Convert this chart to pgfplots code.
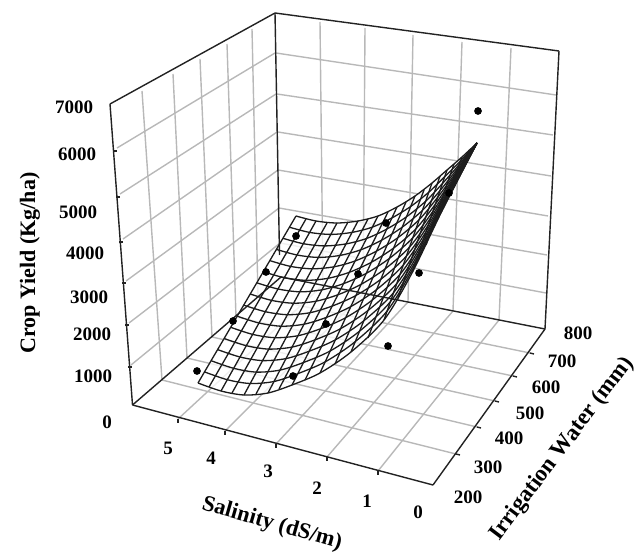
\documentclass[border=0pt]{standalone}
\usepackage{pgfplots}
\pgfplotsset{compat=1.18}
\usepackage{fontspec}
\setmainfont{Liberation Serif}
\definecolor{gridc}{HTML}{B8B8B8}
\definecolor{axisc}{HTML}{222222}
\definecolor{meshc}{HTML}{1C1C1C}
\newcommand\gl[4]{\addplot[gridc,line width=1.4pt,no marks] coordinates {(#1,#2) (#3,#4)};}
\newcommand\al[4]{\addplot[axisc,line width=1.4pt,no marks] coordinates {(#1,#2) (#3,#4)};}
\newcommand\ml[4]{\addplot[meshc,line width=1.3pt,no marks] coordinates {(#1,#2) (#3,#4)};}
\newcommand\rowline[1]{\addplot[meshc,line width=1.3pt,no marks,smooth,tension=0.5] coordinates {#1 (477,143)};}
\newcommand\tl[3]{\node[font=\fontsize{19}{19}\selectfont\bfseries] at (axis cs:#1,#2) {#3};}
\begin{document}
\begin{tikzpicture}
\path[use as bounding box] (0,0) rectangle (642pt,553pt);
\begin{axis}[at={(0,0)},anchor=south west,width=642pt,height=553pt,scale only axis,
 xmin=0,xmax=642,ymin=0,ymax=553,y dir=reverse,hide axis,clip=false]
% floor grid: irrigation lines
\gl{456}{454}{162}{380}
\gl{477}{427}{187}{358}
\gl{495}{401}{212}{337}
\gl{513}{376}{236}{317}
\gl{530}{353}{258}{297}
% floor grid: salinity lines
\gl{378}{471}{499}{320}
\gl{327}{457}{453}{311}
\gl{276}{444}{408}{302}
\gl{225}{431}{363}{294}
\gl{178}{419}{323}{285}
% left wall horizontals
\gl{117}{148}{275}{53}
\gl{120}{194}{276}{94}
\gl{123}{239}{277}{132}
\gl{126}{281}{278}{170}
\gl{129}{323}{279}{208}
\gl{131}{365}{280}{243}
% left wall verticals
\gl{142}{91}{162}{380}
\gl{173}{74}{187}{358}
\gl{200}{59}{212}{337}
\gl{227}{44}{236}{317}
\gl{252}{29}{258}{297}
% back wall horizontals
\gl{276}{53}{556}{95}
\gl{277}{94}{553}{135}
\gl{278}{132}{551}{176}
\gl{278}{170}{548}{216}
\gl{279}{208}{547}{255}
\gl{280}{243}{546}{293}
% back wall verticals
\gl{320}{22}{323}{285}
\gl{365}{28}{363}{294}
\gl{413}{35}{408}{302}
\gl{462}{42}{453}{311}
\gl{511}{48}{499}{320}
% translucent sheet over the grid
\addplot[fill=white,fill opacity=0.78,draw=none,no marks] coordinates {
(198,383)(221,391)(244,395)(268,393)(292,385)(320,373)(351,352)(384,320)(412,273)(441,213)(477,143)
(462,157)(447,170)(432,183)(415,196)(397,207)(378,216)(358,221)(337,223)(316,221)(296,216)};
% box
\al{110}{104}{132.5}{405}
\al{132.5}{405}{433}{485}
\al{433}{485}{545}{329}
\al{545}{329}{559}{51}
\al{559}{51}{275}{13}
\al{275}{13}{110}{104}
\al{275}{13}{279.5}{255}
\al{132.5}{405}{281}{277}
\al{281}{277}{545}{329}
% axis ticks
\al{113}{151}{117}{151}
\al{116}{197}{120}{197}
\al{119}{242}{123}{242}
\al{122}{283}{126}{283}
\al{125}{325}{129}{325}
\al{128}{367}{132}{367}
\al{178}{419}{178}{423}
\al{225}{431}{225}{435}
\al{276}{444}{276}{448}
\al{327}{457}{327}{461}
\al{378}{471}{378}{475}
\al{456}{454}{460}{455}
\al{477}{427}{481}{428}
\al{495}{401}{499}{402}
\al{513}{376}{517}{377}
\al{530}{353}{534}{354}
% mesh: salinity-constant lines
\ml{198}{383}{296}{216}
\ml{209}{387}{306}{219}
\ml{221}{391}{316}{221}
\ml{232}{393}{327}{223}
\ml{244}{395}{337}{223}
\ml{256}{394}{348}{222}
\ml{268}{393}{358}{221}
\ml{279}{389}{368}{219}
\ml{292}{385}{378}{216}
\ml{305}{380}{388}{212}
\ml{320}{373}{397}{207}
\ml{335}{364}{406}{202}
\ml{351}{352}{415}{196}
\ml{368}{338}{424}{190}
\ml{384}{320}{432}{183}
\ml{398}{298}{440}{176}
\ml{412}{273}{447}{170}
\ml{426}{245}{454}{164}
\ml{441}{213}{462}{157}
\ml{458}{178}{469}{150}
% mesh: irrigation-constant lines
\rowline{(198,383)(221,391)(244,395)(268,393)(292,385)(320,373)(351,352)(384,320)(412,273)(441,213)}
\rowline{(204.5,371.9)(227.3,379.7)(250.2,383.5)(274,381.5)(297.7,373.7)(325.1,361.9)(355.3,341.6)(387.2,310.9)(414.3,266.1)(442.4,209.3)}
\rowline{(211.1,360.7)(233.7,368.3)(256.4,372.1)(280,370.1)(303.5,362.5)(330.3,350.9)(359.5,331.2)(390.4,301.7)(416.7,259.3)(443.8,205.5)}
\rowline{(217.6,349.6)(240,357)(262.6,360.6)(286,358.6)(309.2,351.2)(335.4,339.8)(363.8,320.8)(393.6,292.6)(419,252.4)(445.2,201.8)}
\rowline{(224.1,338.5)(246.3,345.7)(268.8,349.1)(292,347.1)(314.9,339.9)(340.5,328.7)(368.1,310.4)(396.8,283.5)(421.3,245.5)(446.6,198.1)}
\rowline{(230.7,327.3)(252.7,334.4)(275,337.7)(298,335.7)(320.7,328.7)(345.7,317.7)(372.3,300)(400,274.4)(423.7,238.7)(448,194.3)}
\rowline{(237.2,316.2)(259,323)(281.2,326.2)(304,324.2)(326.4,317.4)(350.8,306.6)(376.6,289.6)(403.2,265.2)(426,231.8)(449.4,190.6)}
\rowline{(243.7,305.1)(265.3,311.7)(287.4,314.7)(310,312.7)(332.1,306.1)(355.9,295.5)(380.9,279.2)(406.4,256.1)(428.3,224.9)(450.8,186.9)}
\rowline{(250.2,294)(271.6,300.4)(293.6,303.2)(316,301.2)(337.8,294.8)(361,284.4)(385.2,268.8)(409.6,247)(430.6,218)(452.2,183.2)}
\rowline{(256.8,282.8)(278,289)(299.8,291.8)(322,289.8)(343.6,283.6)(366.2,273.4)(389.4,258.4)(412.8,237.8)(433,211.2)(453.6,179.4)}
\rowline{(263.3,271.7)(284.3,277.7)(306,280.3)(328,278.3)(349.3,272.3)(371.3,262.3)(393.7,248)(416,228.7)(435.3,204.3)(455,175.7)}
\rowline{(269.8,260.6)(290.6,266.4)(312.2,268.8)(334,266.8)(355,261)(376.4,251.2)(398,237.6)(419.2,219.6)(437.6,197.4)(456.4,172)}
\rowline{(276.4,249.4)(297,255)(318.4,257.4)(340,255.4)(360.8,249.8)(381.6,240.2)(402.2,227.2)(422.4,210.4)(440,190.6)(457.8,168.2)}
\rowline{(282.9,238.3)(303.3,243.7)(324.6,245.9)(346,243.9)(366.5,238.5)(386.7,229.1)(406.5,216.8)(425.6,201.3)(442.3,183.7)(459.2,164.5)}
\rowline{(289.4,227.2)(309.6,232.4)(330.8,234.4)(352,232.4)(372.2,227.2)(391.8,218)(410.8,206.4)(428.8,192.2)(444.6,176.8)(460.6,160.8)}
\rowline{(296,216)(316,221)(337,223)(358,221)(378,216)(397,207)(415,196)(432,183)(447,170)(462,157)}
% observations
\addplot[only marks,mark=*,mark size=3.6pt,black] coordinates {
(478,111)(449,193)(386,223)(358,274)(419,273)(388,346)(326,324)(296,236)(266,272)(233,321)(197,371)(293,376)};
% tick labels
\tl{74}{107}{7000}
\tl{77}{154}{6000}
\tl{78}{212}{5000}
\tl{85}{253}{4000}
\tl{89}{297}{3000}
\tl{92}{334}{2000}
\tl{93}{376}{1000}
\tl{107}{422}{0}
\tl{168}{448}{5}
\tl{211}{458}{4}
\tl{268}{471}{3}
\tl{317}{488}{2}
\tl{367}{501}{1}
\tl{418}{512}{0}
\tl{578}{333}{800}
\tl{562}{361}{700}
\tl{546}{387}{600}
\tl{530}{413}{500}
\tl{509}{438}{400}
\tl{488}{467}{300}
\tl{468}{497}{200}
% axis titles
\node[font=\fontsize{22}{22}\selectfont\bfseries,rotate=90] at (axis cs:30,263) {Crop Yield (Kg/ha)};
\node[font=\fontsize{22.5}{22}\selectfont\bfseries,rotate=-16] at (axis cs:272,524) {Salinity (dS/m)};
\node[font=\fontsize{23}{22}\selectfont\bfseries,rotate=53] at (axis cs:562,449) {Irrigation Water (mm)};
\end{axis}
\end{tikzpicture}
\end{document}
